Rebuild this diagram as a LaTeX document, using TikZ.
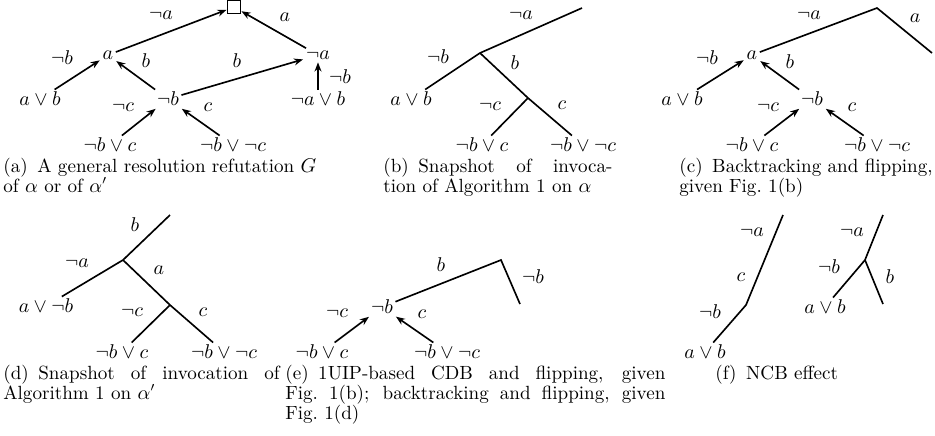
\documentclass[tikz,border=0pt]{standalone}
\usetikzlibrary{arrows.meta}
\begin{document}
\begin{tikzpicture}[x=0.55pt,y=-0.55pt,
  every node/.style={font=\fontsize{10.5}{11}\selectfont},
  tn/.style={inner sep=1.2pt,anchor=center},
  lbl/.style={inner sep=0pt},
  ed/.style={line width=0.9pt},
  ar/.style={line width=0.9pt,-{Stealth[length=5pt,width=3.8pt,inset=1.6pt]},shorten >=0.3pt},
  captxt/.style={anchor=base west,inner sep=0pt,align=left}]
\useasboundingbox (0,0) rectangle (935,435);

% ---------------- (a)
\node[draw,line width=0.45pt,minimum size=7.2pt,inner sep=0pt] (boxA) at (234,7) {};
\node[tn] (aA) at (108,55) {$a$};
\node[tn] (naA) at (318,55) {$\neg a$};
\node[tn] (avbA) at (40,99) {$a\vee b$};
\node[tn] (nbA) at (168,99) {$\neg b$};
\node[tn] (navbA) at (318,99) {$\neg a\vee b$};
\node[tn] (nbvcA) at (110,145) {$\neg b\vee c$};
\node[tn] (nbvncA) at (233,145) {$\neg b\vee\neg c$};
\node[lbl] (lA1) at (161,15) {$\neg a$};
\node[lbl] (lA2) at (285,17) {$a$};
\node[lbl] (lA3) at (62,58) {$\neg b$};
\node[lbl] (lA4) at (146,61) {$b$};
\node[lbl] (lA5) at (237,61) {$b$};
\node[lbl] (lA6) at (340,77) {$\neg b$};
\node[lbl] (lA7) at (123,107) {$\neg c$};
\node[lbl] (lA8) at (208,107) {$c$};
\draw[ar] (aA) -- (boxA);
\draw[ar] (naA) -- (boxA);
\draw[ar] (avbA) -- (aA);
\draw[ar] (nbA) -- (aA);
\draw[ar] (nbA) -- (naA);
\draw[ar] (navbA) -- (naA);
\draw[ar] (nbvcA) -- (nbA);
\draw[ar] (nbvncA) -- (nbA);
\node[captxt] (capA) at (3,192) {(a)\enspace A general resolution refutation $G$\\ of $\alpha$ or of $\alpha'$};

% ---------------- (b)
\coordinate (topB) at (582,8);
\coordinate (j1B) at (480,53);
\coordinate (j2B) at (528,98);
\node[tn] (avbB) at (411,99) {$a\vee b$};
\node[tn] (nbvcB) at (482,145) {$\neg b\vee c$};
\node[tn] (nbvncB) at (583,145) {$\neg b\vee\neg c$};
\draw[ed] (avbB) -- (j1B) -- (topB);
\draw[ed] (j1B) -- (j2B) -- (nbvncB);
\draw[ed] (j2B) -- (nbvcB);
\node[lbl] (lB1) at (521,15) {$\neg a$};
\node[lbl] (lB2) at (438,57) {$\neg b$};
\node[lbl] (lB3) at (515,63) {$b$};
\node[lbl] (lB4) at (490,106) {$\neg c$};
\node[lbl] (lB5) at (562,105) {$c$};
\node[captxt] (capB) at (383,192) {\hbox to 126pt{(b)\enspace Snapshot of invoca-}\\ tion of Algorithm 1 on $\alpha$};

% ---------------- (c)
\coordinate (topC) at (877,8);
\coordinate (endC) at (932,53);
\node[tn] (aC) at (752,55) {$a$};
\node[tn] (avbC) at (682,99) {$a\vee b$};
\node[tn] (nbC) at (812,99) {$\neg b$};
\node[tn] (nbvcC) at (752,145) {$\neg b\vee c$};
\node[tn] (nbvncC) at (877,145) {$\neg b\vee\neg c$};
\draw[ed] (aC) -- (topC) -- (endC);
\draw[ar] (avbC) -- (aC);
\draw[ar] (nbC) -- (aC);
\draw[ar] (nbvcC) -- (nbC);
\draw[ar] (nbvncC) -- (nbC);
\node[lbl] (lC1) at (809,15) {$\neg a$};
\node[lbl] (lC2) at (915,18) {$a$};
\node[lbl] (lC3) at (707,58) {$\neg b$};
\node[lbl] (lC4) at (790,62) {$b$};
\node[lbl] (lC5) at (768,107) {$\neg c$};
\node[lbl] (lC6) at (852,107) {$c$};
\node[captxt] (capC) at (679,192) {(c)\enspace Backtracking and flipping,\\ given Fig.~1(b)};

% ---------------- (d)
\coordinate (topD) at (170,215);
\coordinate (j1D) at (123,260);
\coordinate (j2D) at (170,305);
\node[tn] (avnbD) at (46,306) {$a\vee\neg b$};
\node[tn] (nbvcD) at (122,352) {$\neg b\vee c$};
\node[tn] (nbvncD) at (224,352) {$\neg b\vee\neg c$};
\draw[ed] (avnbD) -- (j1D) -- (topD);
\draw[ed] (j1D) -- (j2D) -- (nbvncD);
\draw[ed] (j2D) -- (nbvcD);
\node[lbl] (lD1) at (135,225) {$b$};
\node[lbl] (lD2) at (77,263) {$\neg a$};
\node[lbl] (lD3) at (159,270) {$a$};
\node[lbl] (lD4) at (132,312) {$\neg c$};
\node[lbl] (lD5) at (203,312) {$c$};
\node[captxt] (capD) at (3,399) {\hbox to 152pt{(d)\enspace Snapshot of invocation of}\\ Algorithm 1 on $\alpha'$};

% ---------------- (e)
\coordinate (topE) at (501,260);
\coordinate (endE) at (520,304);
\node[tn] (nbE) at (382,307) {$\neg b$};
\node[tn] (nbvcE) at (322,352) {$\neg b\vee c$};
\node[tn] (nbvncE) at (447,352) {$\neg b\vee\neg c$};
\draw[ed] (nbE) -- (topE) -- (endE);
\draw[ar] (nbvcE) -- (nbE);
\draw[ar] (nbvncE) -- (nbE);
\node[lbl] (lE1) at (441,265) {$b$};
\node[lbl] (lE2) at (533,277) {$\neg b$};
\node[lbl] (lE3) at (337,313) {$\neg c$};
\node[lbl] (lE4) at (422,314) {$c$};
\node[captxt] (capE) at (285,419) {\hbox to 209pt{(e)\enspace 1UIP-based CDB and flipping, given}\\ \hbox to 209pt{Fig.~1(b); backtracking and flipping, given}\\ Fig.~1(d)};

% ---------------- (f)
\coordinate (topF1) at (783,215);
\coordinate (bendF1) at (746,305);
\node[tn] (avbF1) at (705,352) {$a\vee b$};
\draw[ed] (avbF1) -- (bendF1) -- (topF1);
\node[lbl] (lF1) at (752,232) {$\neg a$};
\node[lbl] (lF2) at (741,277) {$c$};
\node[lbl] (lF3) at (710,312) {$\neg b$};
\coordinate (topF2) at (883,215);
\coordinate (jF2) at (865,260);
\coordinate (endF2) at (883,304);
\node[tn] (avbF2) at (825,307) {$a\vee b$};
\draw[ed] (avbF2) -- (jF2) -- (topF2);
\draw[ed] (jF2) -- (endF2);
\node[lbl] (lF4) at (852,232) {$\neg a$};
\node[lbl] (lF5) at (829,267) {$\neg b$};
\node[lbl] (lF6) at (890,277) {$b$};
\node[captxt] (capF) at (715,379) {(f)\enspace NCB effect};
\end{tikzpicture}
\end{document}
